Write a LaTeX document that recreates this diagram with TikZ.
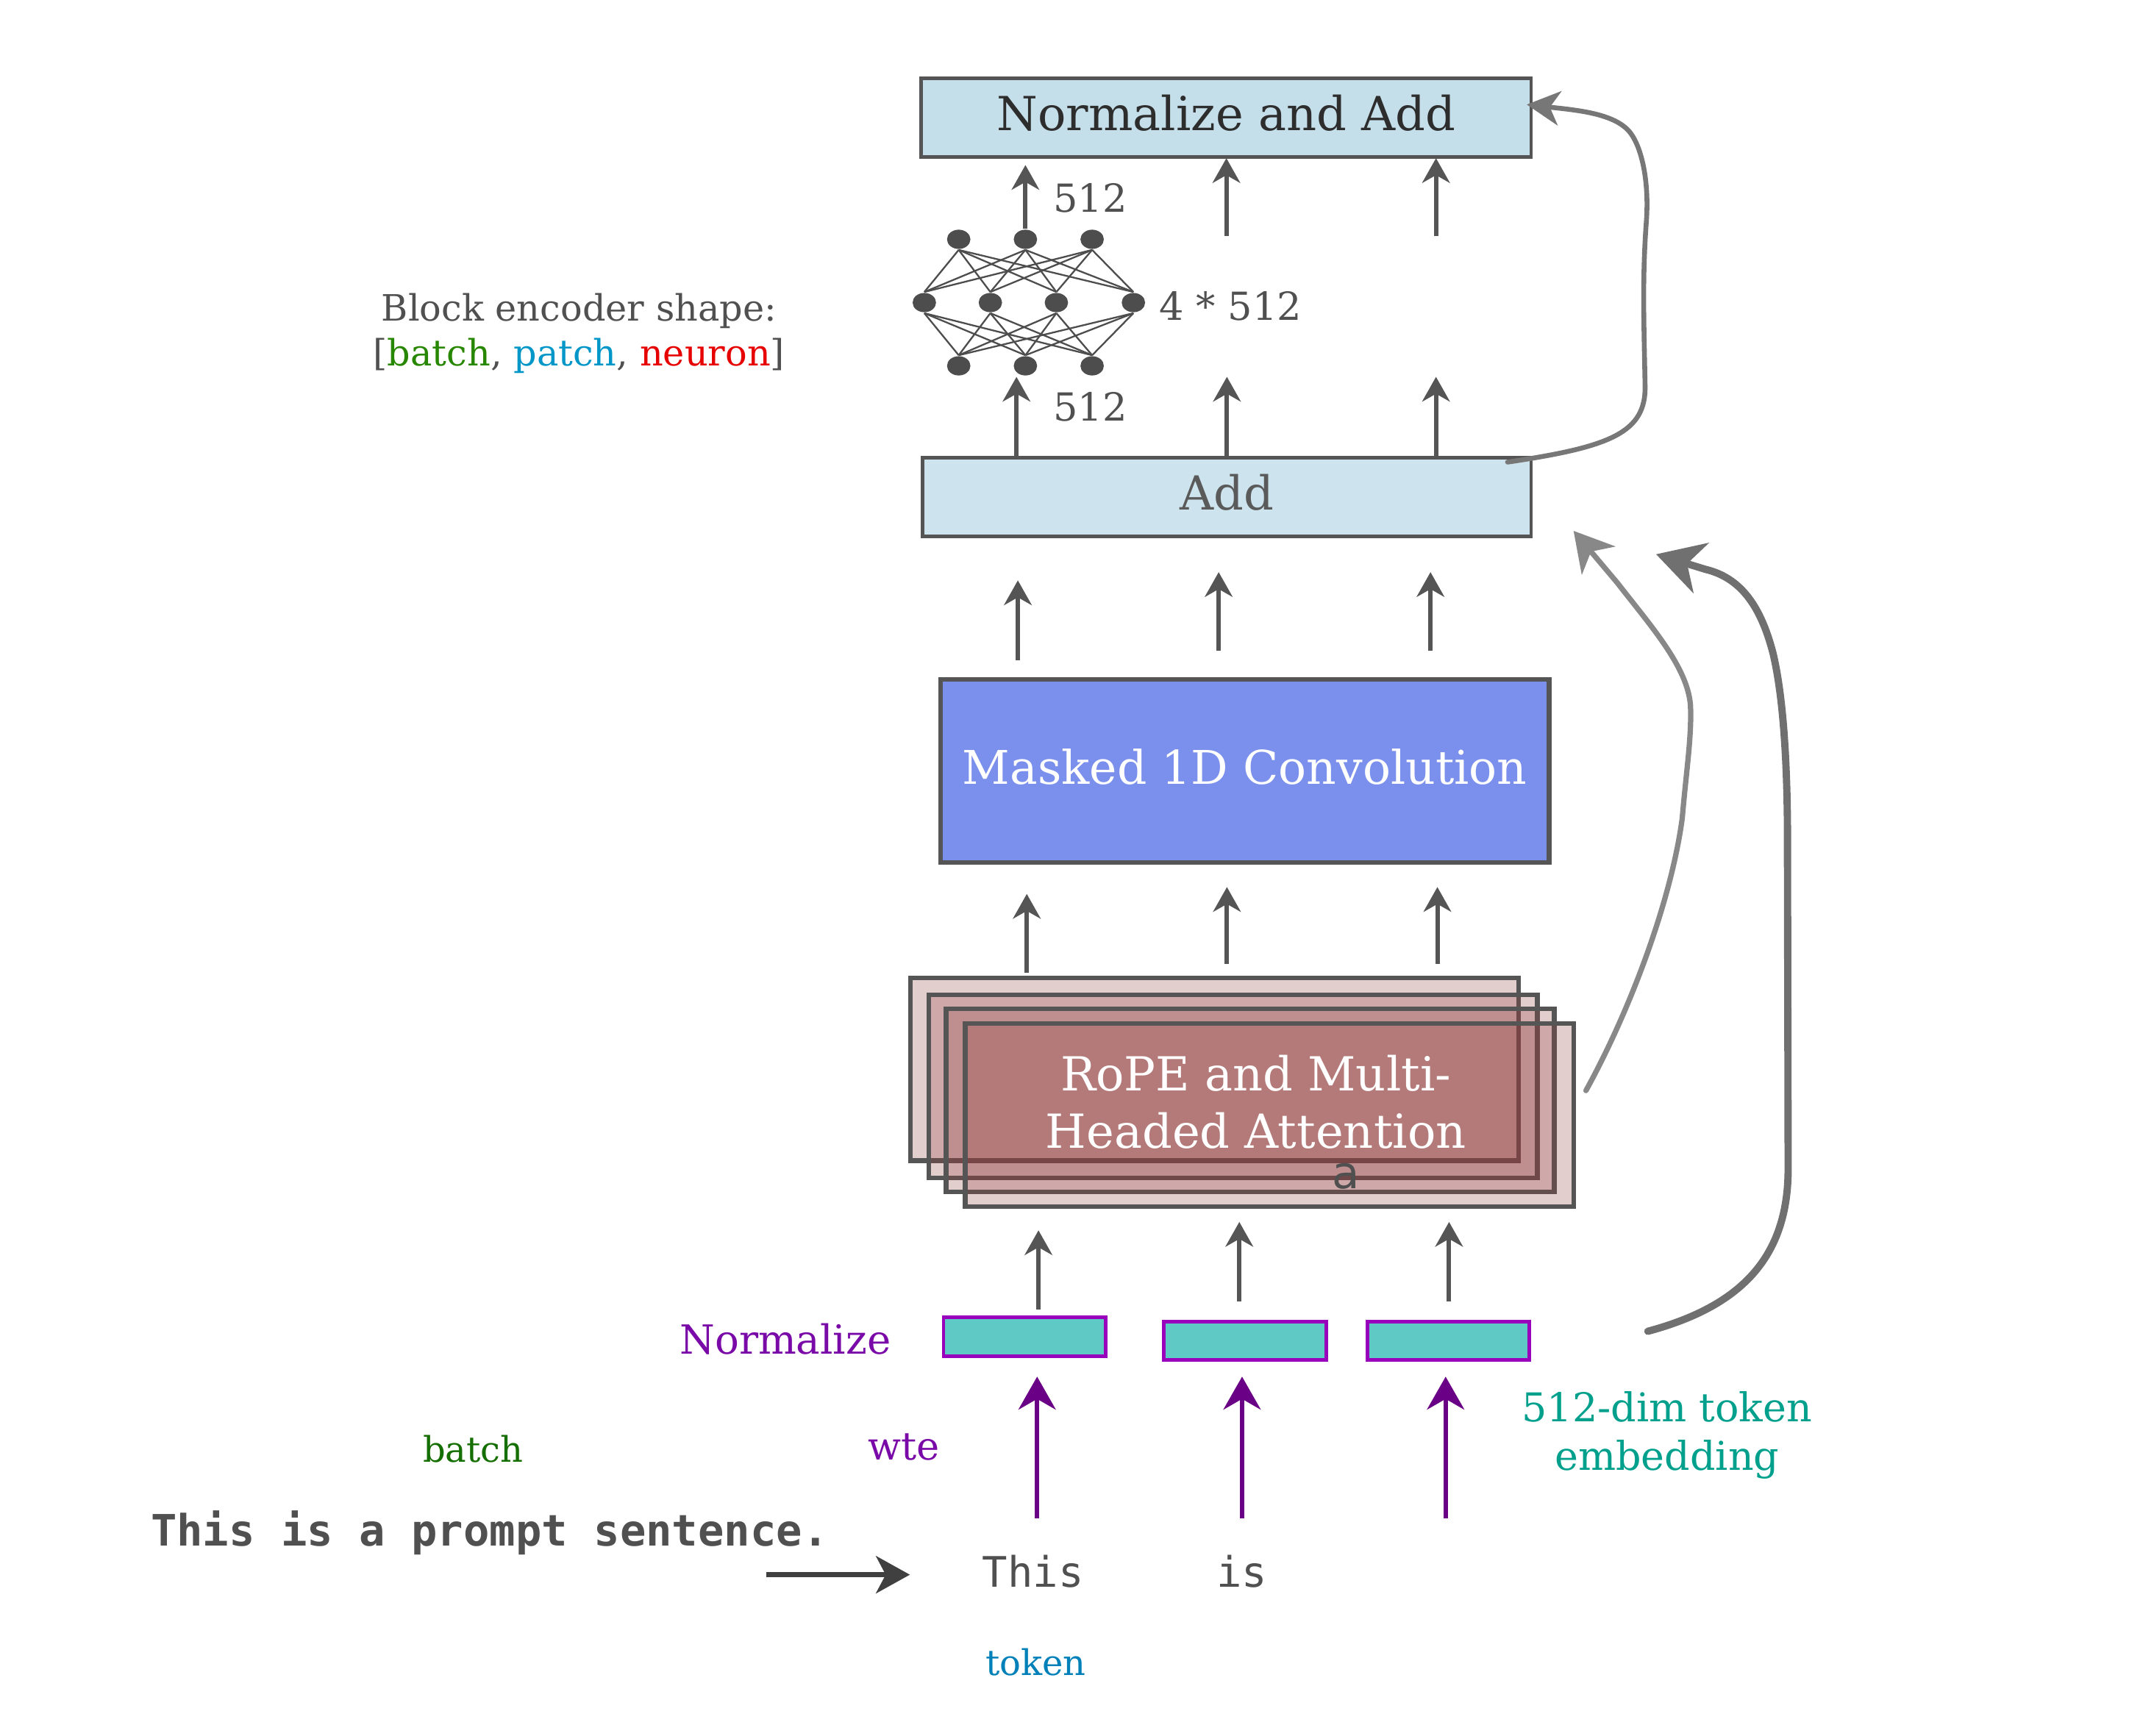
\documentclass[tikz,border=0pt]{standalone}
\usepackage{fontspec}
\setmainfont{DejaVu Serif}
\setsansfont{DejaVu Sans}
\setmonofont{DejaVu Sans Mono}
\usetikzlibrary{arrows.meta,shapes.geometric}

\definecolor{boxgray}{RGB}{85,85,85}
\definecolor{normaddfill}{RGB}{197,223,234}
\definecolor{addfill}{RGB}{205,228,238}
\definecolor{convfill}{RGB}{123,143,236}
\definecolor{ropered}{RGB}{145,60,60}
\definecolor{embfill}{RGB}{94,201,197}
\definecolor{embedge}{RGB}{153,0,187}
\definecolor{wtepurple}{RGB}{106,0,133}
\definecolor{normpurple}{RGB}{122,10,168}
\definecolor{batchgreen}{RGB}{20,110,0}
\definecolor{shapegreen}{RGB}{40,135,0}
\definecolor{patchblue}{RGB}{0,150,200}
\definecolor{neuronred}{RGB}{230,0,0}
\definecolor{embteal}{RGB}{0,160,140}
\definecolor{tokenblue}{RGB}{0,128,185}
\definecolor{labgray}{RGB}{80,80,80}
\definecolor{nngray}{RGB}{77,77,77}

\begin{document}
\begin{tikzpicture}[x=0.01cm,y=-0.01cm,
  box/.style={draw=boxgray, line width=0.75pt, inner sep=0pt, minimum width=4.42cm, minimum height=0.57cm,
    font=\fontsize{9.7}{11.8}\selectfont, text height=7.4pt, text depth=2pt},
  ropebox/.style={draw=boxgray, line width=1pt, fill=ropered, fill opacity=0.25, draw opacity=1,
    minimum width=4.42cm, minimum height=1.33cm, inner sep=0pt},
  embbox/.style={draw=embedge, fill=embfill, line width=0.75pt, minimum width=1.18cm, minimum height=0.28cm, inner sep=0pt},
  neuron/.style={ellipse, fill=nngray, minimum width=0.17cm, minimum height=0.14cm, inner sep=0pt},
  nnline/.style={draw=nngray, line width=0.35pt},
  lab/.style={text=labgray, inner sep=0pt, anchor=base},
  arr/.style={draw=boxgray, line width=0.9pt, -{Stealth[length=5.1pt,width=5.7pt,inset=1.6pt]}},
  parr/.style={draw=wtepurple, line width=0.9pt, -{Stealth[length=6.8pt,width=7.7pt,inset=2.2pt]}},
  skip/.style={line cap=round}
]

  % Canvas
  \useasboundingbox (0,0) rectangle (1566,1262);

  % Top block
  \node[box, fill=normaddfill, minimum width=4.43cm, text={rgb,255:red,45;green,45;blue,45}] (normadd) at (891.5,85.5) {Normalize and Add};

  % Feed forward net
  \foreach \i/\x in {1/697,2/745.5,3/794}
    \node[neuron] (t\i) at (\x,174) {};
  \foreach \i/\x in {1/672,2/720,3/768,4/824}
    \node[neuron] (m\i) at (\x,220) {};
  \foreach \i/\x in {1/697,2/745.5,3/794}
    \node[neuron] (b\i) at (\x,266) {};
  \foreach \i in {1,2,3}
    \foreach \j in {1,...,4} {
      \draw[nnline] (t\i.south) -- (m\j.north);
      \draw[nnline] (m\j.south) -- (b\i.north);
    }
  \node[lab, font=\fontsize{8}{10}\selectfont] (outdim) at (792.6,154.3) {512};
  \node[lab, font=\fontsize{8}{10}\selectfont] (hiddim) at (894.6,232.6) {4 * 512};
  \node[lab, font=\fontsize{8}{10}\selectfont] (indim) at (792.6,306) {512};

  % Add block
  \node[box, fill=addfill, text={rgb,255:red,90;green,90;blue,90}] (add) at (892,361.5) {Add};

  % Convolution
  \node[box, fill=convfill, line width=1pt, minimum height=1.33cm, text=white, font=\fontsize{9.6}{11.8}\selectfont] (conv) at (905,560.5) {Masked 1D Convolution};

  % Attention heads
  \foreach \i/\x/\y in {1/883/777.5, 2/896.5/790, 3/909/800, 4/923/810.7}
    \node[ropebox] (rope\i) at (\x,\y) {};
  \node[text=white, align=center, inner sep=0pt, font=\fontsize{9.7}{11.8}\selectfont] (ropetext) at (913,801.3) {RoPE and Multi-\\Headed Attention};
  \node[lab, font=\fontsize{9.3}{11}\sffamily] (heada) at (978.5,864) {a};

  % Embeddings
  \foreach \i/\x/\y in {1/745/972, 2/905/975, 3/1053/975}
    \node[embbox] (emb\i) at (\x,\y) {};
  \node[lab, text=normpurple, font=\fontsize{8.3}{10}\selectfont] (normlab) at (571,984.5) {Normalize};

  % Up arrows
  \coordinate (nntop) at (745.5,120);
  \draw[arr] (t2.north) -- (nntop);
  \foreach \n/\x/\ya/\yb in {na2/891.6/171.6/115, na3/1044/171.6/115,
      an1/739/331.6/274, an2/892/331.6/274, an3/1044/331.6/274,
      ca1/740/480/422, ca2/886/473/416, ca3/1040/473/416,
      rc1/746.5/707.5/650, rc2/892/701/645, rc3/1045/701/645,
      er1/755/952/894.6, er2/901/946.5/888.5, er3/1053.5/946.5/888.5} {
    \coordinate (s\n) at (\x,\ya);
    \coordinate (e\n) at (\x,\yb);
    \draw[arr] (s\n) -- (e\n);
  }

  % wte arrows
  \foreach \i/\x in {1/754,2/903,3/1051} {
    \coordinate (w\i) at (\x,1104);
    \coordinate (v\i) at (\x,1001);
    \draw[parr] (w\i) -- (v\i);
  }

  % Skip connections
  \coordinate (k1) at (1096,336);
  \coordinate (k1e) at (1110,76);
  \draw[skip, draw={rgb,255:red,119;green,119;blue,119}, line width=1pt, -{Stealth[length=6.8pt,width=7.1pt,inset=2pt]}]
    (k1) .. controls (1170,325) and (1197,315) .. (1196,280)
    .. controls (1195,230) and (1194,200) .. (1197,160)
    .. controls (1199,130) and (1193,105) .. (1184,95)
    .. controls (1172,82) and (1145,80) .. (k1e);
  \coordinate (k2) at (1153,793);
  \coordinate (k2e) at (1144,386);
  \draw[skip, draw={rgb,255:red,136;green,136;blue,136}, line width=1.1pt, -{Stealth[length=8pt,width=9pt,inset=2.4pt]}]
    (k2) .. controls (1185,735) and (1215,655) .. (1223,595)
    .. controls (1226,560) and (1230,535) .. (1229,513)
    .. controls (1227,485) and (1200,455) .. (1176,424) -- (k2e);
  \coordinate (k3) at (1198,968);
  \coordinate (k3e) at (1204,403);
  \draw[skip, draw={rgb,255:red,112;green,112;blue,112}, line width=1.5pt, -{Stealth[length=9.7pt,width=10.8pt,inset=3pt]}]
    (k3) .. controls (1265,950) and (1300,915) .. (1300,850) -- (1299.5,600)
    .. controls (1299,540) and (1295,500) .. (1289,475)
    .. controls (1280,440) and (1265,420) .. (1240,414) -- (k3e);

  % Labels
  \node[text=labgray, align=center, inner sep=0pt, font=\fontsize{7.5}{9.3}\selectfont] (shapelab) at (421,242.4)
    {Block encoder shape:\\{[}\textcolor{shapegreen}{batch}, \textcolor{patchblue}{patch}, \textcolor{neuronred}{neuron}{]}};
  \node[lab, text=batchgreen, font=\fontsize{7.3}{9}\selectfont] (batchlab) at (344,1063) {batch};
  \node[lab, text=normpurple, font=\fontsize{8}{10}\selectfont] (wtelab) at (657,1061.5) {wte};
  \node[text=embteal, align=center, inner sep=0pt, font=\fontsize{8.2}{10.1}\selectfont] (emblab) at (1212,1043.7) {512-dim token\\embedding};
  \node[lab, text=labgray, font=\fontsize{8.95}{11}\ttfamily\bfseries] (prompt) at (356,1124) {This is a prompt sentence.};
  \node[lab, font=\fontsize{8.7}{11}\ttfamily] (tok1) at (751,1154) {This};
  \node[lab, font=\fontsize{8.7}{11}\ttfamily] (tok2) at (903,1154) {is};
  \node[lab, text=tokenblue, font=\fontsize{7.3}{9}\selectfont] (toklab) at (753,1218) {token};

  % Tokenize arrow
  \coordinate (p1) at (557,1145);
  \coordinate (p2) at (661.5,1145);
  \draw[draw={rgb,255:red,64;green,64;blue,64}, line width=1.07pt, -{Stealth[length=7pt,width=7.7pt,inset=2pt]}] (p1) -- (p2);

\end{tikzpicture}
\end{document}
